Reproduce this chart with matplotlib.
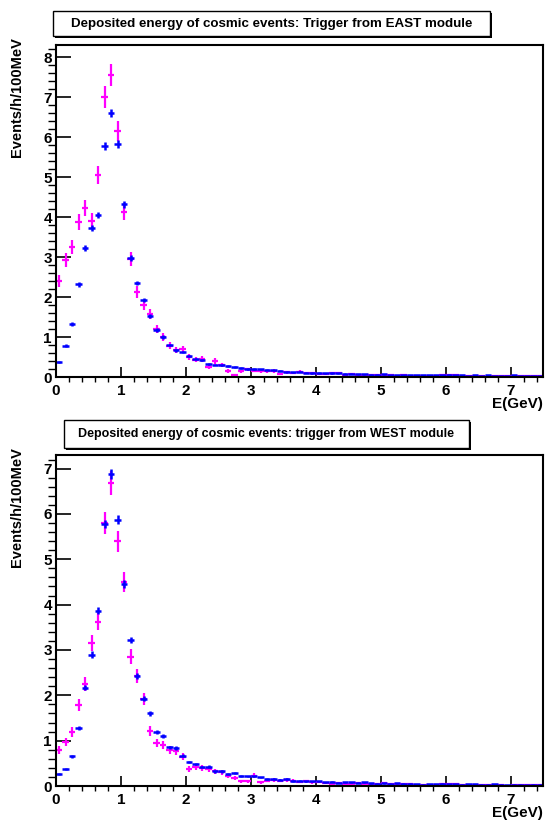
import matplotlib.pyplot as plt
import matplotlib.patches as patches
import numpy as np

plt.rcParams['font.family'] = ['Liberation Sans', 'DejaVu Sans']
plt.rcParams['font.weight'] = 'bold'

# bin centres: 75 bins of 100 MeV from 0 to 7.5 GeV
energy = np.arange(75) * 0.1 + 0.05

# EAST trigger
east_blue = [0.38, 0.78, 1.32, 2.32, 3.22, 3.72, 4.05, 5.78, 6.60, 5.83,
             4.32, 2.98, 2.35, 1.93, 1.52, 1.18, 1.00, 0.80, 0.67, 0.62,
             0.52, 0.46, 0.42, 0.33, 0.31, 0.30, 0.28, 0.25, 0.22, 0.20,
             0.20, 0.19, 0.18, 0.17, 0.16, 0.13, 0.12, 0.13, 0.11, 0.10,
             0.10, 0.09, 0.10, 0.09, 0.08, 0.08, 0.07, 0.07, 0.06, 0.06,
             0.07, 0.05, 0.05, 0.04, 0.05, 0.05, 0.04, 0.04, 0.05, 0.04,
             0.06, 0.04, 0.04, 0.03, 0.04, 0.03, 0.04, 0.03, 0.03, 0.03,
             0.04, 0.03, 0.03, 0.02, 0.03]
east_magenta = [2.40, 2.92, 3.25, 3.87, 4.22, 3.90, 5.05, 7.00, 7.55, 6.15,
                4.12, 2.95, 2.12, 1.80, 1.57, 1.20, 1.00, 0.78, 0.68, 0.70,
                0.50, 0.43, 0.45, 0.26, 0.40, 0.30, 0.15, 0.05, 0.14, 0.19,
                0.16, 0.15, 0.14, 0.15, 0.08, 0.12, 0.10, 0.13, 0.10, 0.09,
                0.08, 0.07, 0.09, 0.10, 0.05, 0.08, 0.05, 0.04, 0.05, 0.04,
                0.05, 0.04, 0.03, 0.04, 0.02, 0.03, 0.03, 0.02, 0.03, 0.04,
                0.05, 0.06, 0.03, 0.02, 0.03, 0.02, 0.01, 0.02, 0.03, 0.02,
                0.02, 0.03, 0.02, 0.02, 0.03]

# WEST trigger
west_blue = [0.27, 0.38, 0.66, 1.27, 2.17, 2.90, 3.87, 5.78, 6.88, 5.87,
             4.45, 3.22, 2.42, 1.92, 1.60, 1.20, 1.10, 0.85, 0.84, 0.67,
             0.53, 0.48, 0.42, 0.43, 0.32, 0.32, 0.27, 0.28, 0.22, 0.21,
             0.21, 0.19, 0.15, 0.15, 0.14, 0.15, 0.11, 0.12, 0.10, 0.10,
             0.10, 0.08, 0.09, 0.07, 0.08, 0.08, 0.07, 0.08, 0.06, 0.05,
             0.06, 0.05, 0.06, 0.05, 0.05, 0.04, 0.03, 0.04, 0.04, 0.05,
             0.04, 0.04, 0.03, 0.04, 0.04, 0.03, 0.03, 0.04, 0.03, 0.02,
             0.03, 0.03, 0.02, 0.03, 0.03]
west_magenta = [0.80, 0.97, 1.20, 1.78, 2.25, 3.15, 3.62, 5.80, 6.68, 5.40,
                4.50, 2.85, 2.42, 1.92, 1.22, 0.95, 0.90, 0.80, 0.77, 0.65,
                0.37, 0.42, 0.40, 0.38, 0.32, 0.30, 0.22, 0.17, 0.10, 0.11,
                0.23, 0.08, 0.12, 0.13, 0.12, 0.13, 0.12, 0.09, 0.10, 0.08,
                0.09, 0.06, 0.05, 0.06, 0.05, 0.05, 0.06, 0.04, 0.05, 0.04,
                0.06, 0.05, 0.04, 0.05, 0.04, 0.03, 0.02, 0.03, 0.03, 0.04,
                0.05, 0.04, 0.03, 0.02, 0.03, 0.02, 0.03, 0.02, 0.02, 0.01,
                0.02, 0.03, 0.02, 0.02, 0.02]

titles = ["Deposited energy of cosmic events: Trigger from EAST module",
          "Deposited energy of cosmic events: trigger from WEST module"]
title_sizes = [9.6, 9.0]
ylims = [8.3, 7.3]

fig = plt.figure(figsize=(5.45, 8.21), dpi=100)
W, H = 545.0, 821.0

# axes boxes in pixels (left, top, right, bottom)
ax_boxes = [(56, 45, 543, 377), (56, 455, 543, 786)]
# title boxes in pixels
title_boxes = [(53, 11, 490, 36), (64, 420, 469, 448)]

datasets = [(east_blue, east_magenta), (west_blue, west_magenta)]

for i in range(2):
    l, t, r, b = ax_boxes[i]
    ax = fig.add_axes([l / W, 1 - b / H, (r - l) / W, (b - t) / H])
    blue, mag = datasets[i]
    blue = np.array(blue)
    mag = np.array(mag)
    # poisson-like error bars
    ax.errorbar(energy, mag, xerr=0.05, yerr=0.10 * np.sqrt(mag), fmt='none',
                ecolor='#ff00ff', elinewidth=1.6, capsize=0)
    ax.errorbar(energy, blue, xerr=0.05, yerr=0.04 * np.sqrt(blue), fmt='none',
                ecolor='#0000ff', elinewidth=1.8, capsize=0)
    ax.set_xlim(0, 7.5)
    ax.set_ylim(0, ylims[i])
    ax.set_xticks(np.arange(0, 8, 1))
    ax.set_xticks(np.arange(0, 7.6, 0.2), minor=True)
    ax.set_yticks(np.arange(0, int(ylims[i]) + 1, 1))
    ax.set_yticks(np.arange(0, ylims[i], 0.2), minor=True)
    ax.tick_params(axis='both', direction='in', labelsize=11, width=1.2)
    ax.tick_params(axis='y', which='major', length=11, pad=3)
    ax.tick_params(axis='y', which='minor', length=6, width=1.0)
    ax.tick_params(axis='x', which='major', length=7.5, pad=5)
    ax.tick_params(axis='x', which='minor', length=3.6, width=1.0)
    for lab in ax.get_xticklabels() + ax.get_yticklabels():
        lab.set_fontweight('bold')
    for s in ax.spines.values():
        s.set_linewidth(1.5)
    ax.text(1.0, -0.082, "E(GeV)", transform=ax.transAxes, ha='right',
            va='center', fontsize=11, fontweight='bold')
    fig.text(17 / W, 1 - (t - 8) / H, "Events/h/100MeV", rotation=90,
             ha='center', va='top', fontsize=10.5, fontweight='bold')

    # title box with a small shadow, root style
    tl, tt, tr, tb = title_boxes[i]
    shadow = patches.Rectangle(((tl + 2) / W, 1 - (tb + 2) / H), (tr - tl) / W,
                               (tb - tt) / H, transform=fig.transFigure,
                               facecolor='black', edgecolor='black', lw=0)
    box = patches.Rectangle((tl / W, 1 - tb / H), (tr - tl) / W, (tb - tt) / H,
                            transform=fig.transFigure, facecolor='white',
                            edgecolor='black', lw=1.0)
    fig.patches.append(shadow)
    fig.patches.append(box)
    fig.text((tl + tr) / 2 / W, 1 - (tt + tb) / 2 / H, titles[i], ha='center',
             va='center', fontsize=title_sizes[i], fontweight='bold')

fig.savefig("out.png", dpi=100)
